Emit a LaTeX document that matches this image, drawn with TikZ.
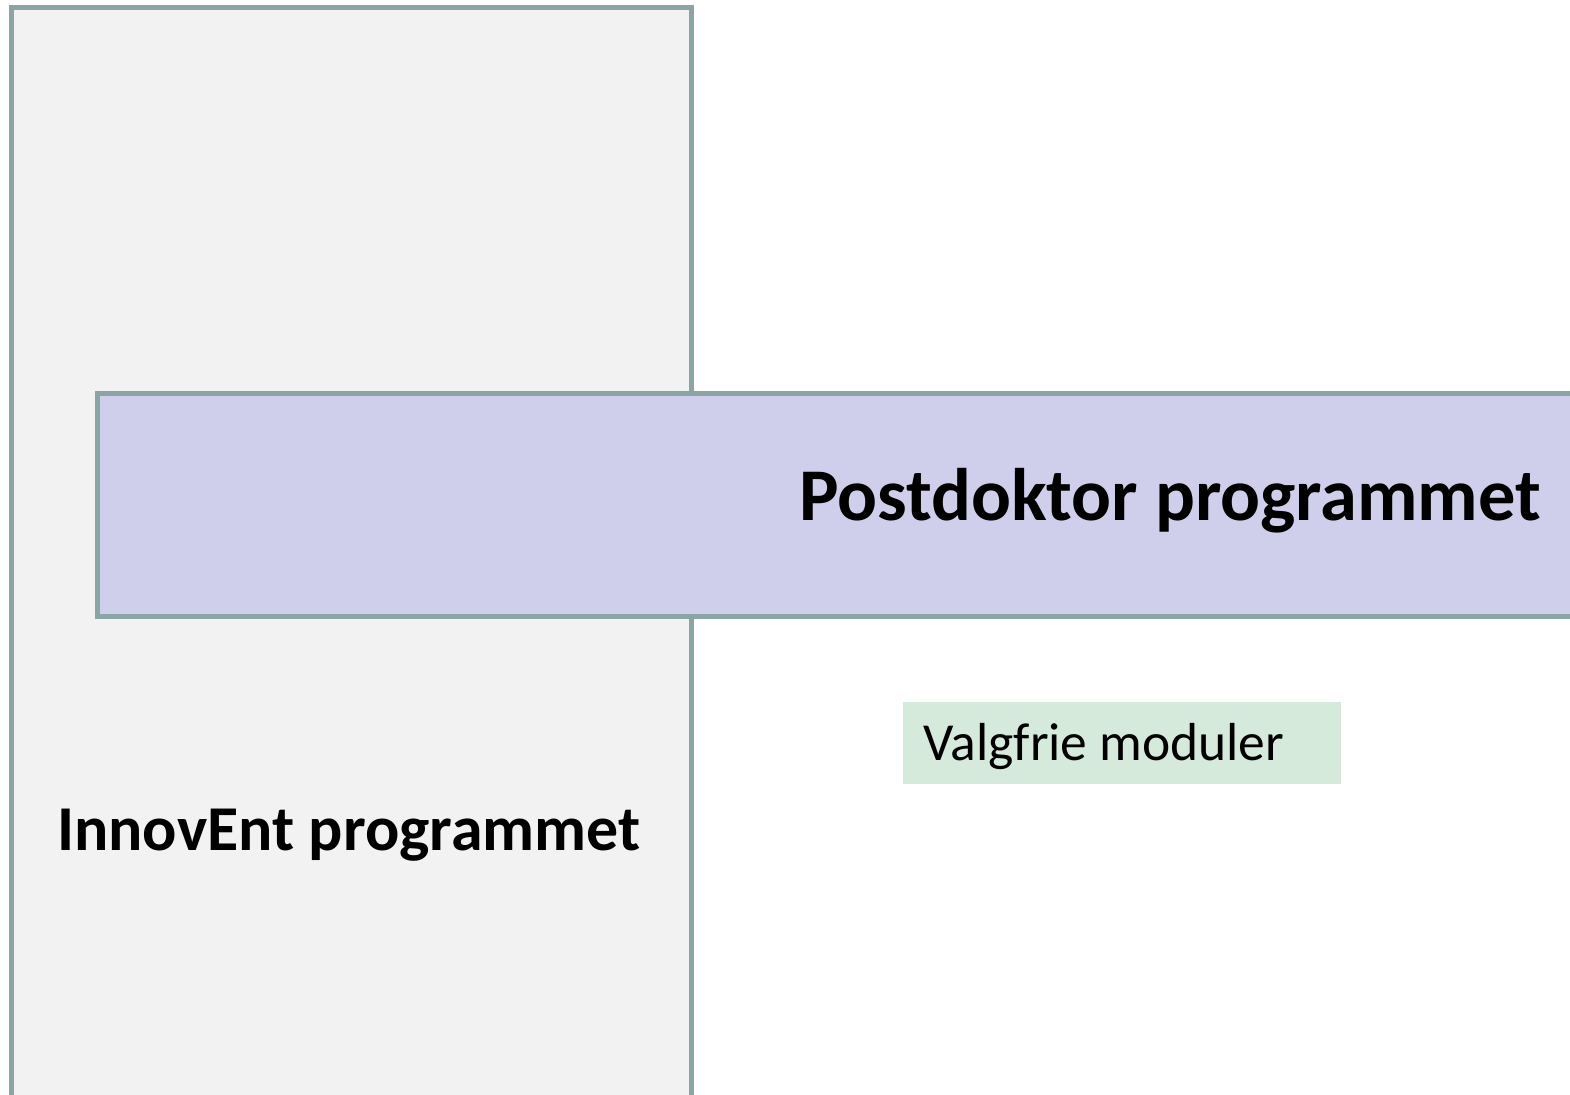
\documentclass[tikz,border=0pt]{standalone}
\usepackage{fontspec}
\setmainfont{Carlito}
\definecolor{edgec}{HTML}{8BA5A7}
\definecolor{leftfill}{HTML}{F2F2F2}
\definecolor{purplefill}{HTML}{CFCFEC}
\definecolor{greenfill}{HTML}{D5EADB}
\tikzset{
  panel/.style={draw=edgec, line width=5pt},
  lbl/.style={anchor=base west, inner sep=0pt, text=black}
}
\begin{document}
\begin{tikzpicture}[x=1pt,y=-1pt]
\useasboundingbox (0,0) rectangle (1570,1094);
\clip (0,0) rectangle (1570,1094);
\fill[white] (0,0) rectangle (1570,1094);
% left panel
\path[panel, fill=leftfill] (11.5,7.5) rectangle (691.5,1120);
% purple band
\path[panel, fill=purplefill] (97,393.5) rectangle (1600,616);
% green box
\node[fill=greenfill, minimum width=438pt, minimum height=82pt, anchor=north west, inner sep=0pt] (valg) at (903,702) {};
\node[lbl, font=\fontsize{53.5}{62}\selectfont] (valgtxt) at (923,760) {Valgfrie moduler};
\node[lbl, font=\fontsize{74.4}{86}\selectfont\bfseries] (post) at (799,520) {Postdoktor programmet};
\node[lbl, font=\fontsize{63.9}{74}\selectfont\bfseries] (innov) at (57,850) {InnovEnt programmet};
\end{tikzpicture}
\end{document}
